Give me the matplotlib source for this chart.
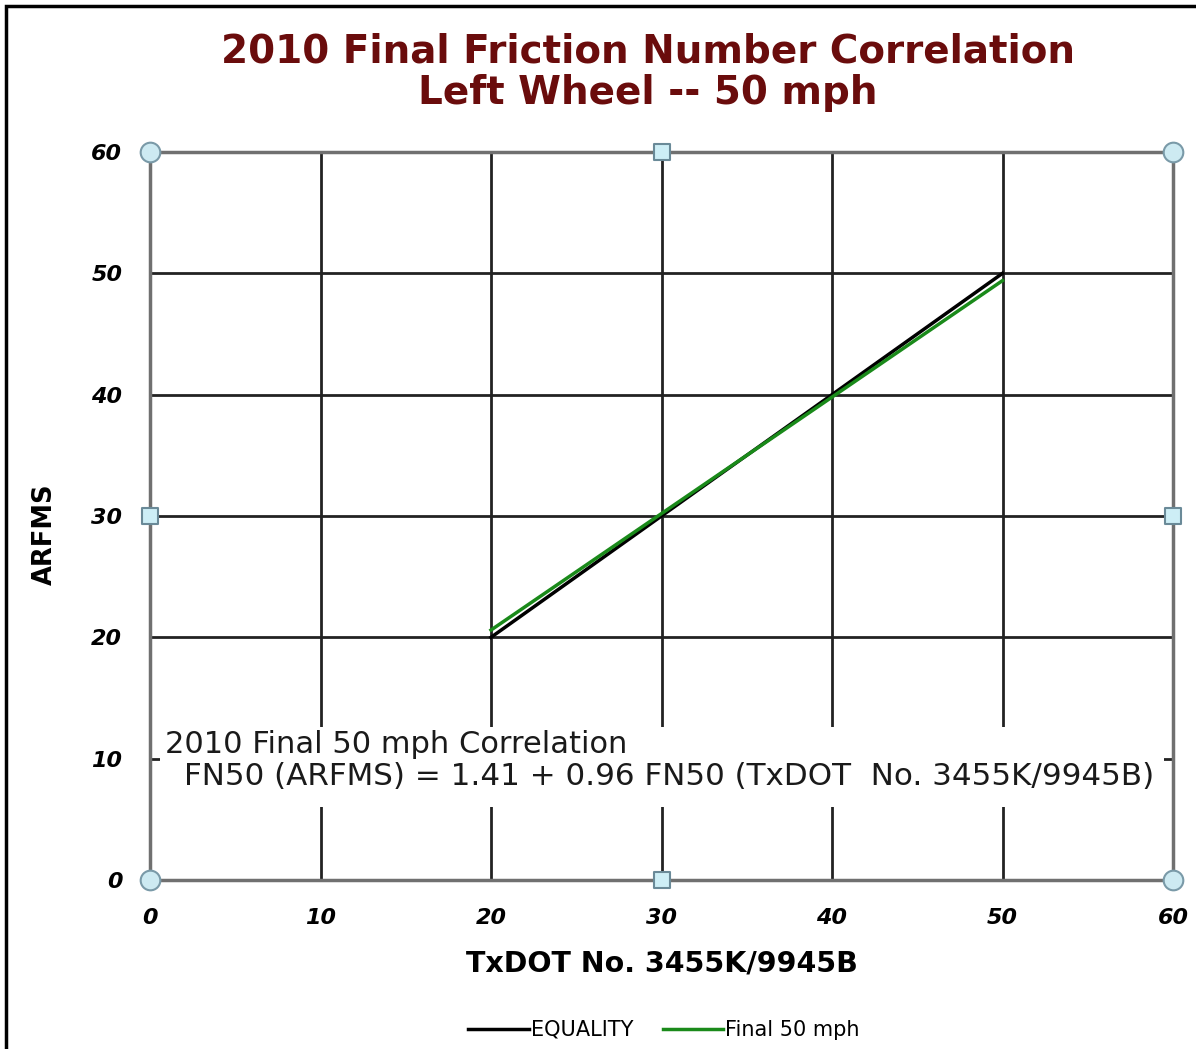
import matplotlib
matplotlib.use("Agg")
import matplotlib.pyplot as plt
from matplotlib.patches import Rectangle
from matplotlib.lines import Line2D

# Data
equality_x = [20, 50]
equality_y = [20, 50]
final_x = [20, 50]
final_y = [20.6, 49.4]
ticks = [0, 10, 20, 30, 40, 50, 60]
title = "2010 Final Friction Number Correlation\nLeft Wheel -- 50 mph"
xlabel = "TxDOT No. 3455K/9945B"
ylabel = "ARFMS"
note1 = "2010 Final 50 mph Correlation"
note2 = "FN50 (ARFMS) = 1.41 + 0.96 FN50 (TxDOT  No. 3455K/9945B)"

plt.rcParams['font.family'] = ['DejaVu Sans']

fig = plt.figure(figsize=(11.96, 10.49), dpi=100)
ax = fig.add_axes([150/1196, 1-880/1049, (1173-150)/1196, (880-152)/1049])

# outer frame
fig.patches.append(Rectangle((6/1196, -0.01), 1 - 6/1196 + 0.01, 1 - 6/1049 + 0.01,
                             transform=fig.transFigure, fill=False, edgecolor='black', linewidth=2.5))

ax.set_xlim(0, 60)
ax.set_ylim(0, 60)
ax.set_xticks(ticks)
ax.set_yticks(ticks)
ax.tick_params(axis='y', length=0, pad=20)
ax.tick_params(axis='x', length=0, pad=20)
for lbl in ax.get_xticklabels() + ax.get_yticklabels():
    lbl.set_fontweight('bold')
    lbl.set_fontstyle('italic')
    lbl.set_fontsize(16)
for s in ax.spines.values():
    s.set_color('#707070')
    s.set_linewidth(2.5)
ax.grid(True, color='#222222', linewidth=2)
ax.set_axisbelow(True)

ax.plot(equality_x, equality_y, color='black', linewidth=2.5, label='EQUALITY', zorder=3)
ax.plot(final_x, final_y, color='#1a8a1a', linewidth=2.5, label='Final 50 mph', zorder=3)

# white box behind annotation
ax.add_patch(Rectangle((0.6, 6.0), 58.9, 6.6, facecolor='white', edgecolor='none', zorder=2))
ax.text(0.9, 11.2, note1, fontsize=22, va='center', ha='left', zorder=4, color='#1a1a1a')
ax.text(2.0, 8.55, note2, fontsize=22.3, va='center', ha='left', zorder=4, color='#1a1a1a')

# handles
hx_c = [0, 0, 60, 60]
hy_c = [0, 60, 0, 60]
hx_s = [30, 30, 0, 60]
hy_s = [0, 60, 30, 30]
ax.scatter(hx_c, hy_c, marker='o', s=200, facecolor='#cdeaf2', edgecolor='#7a9aa8',
           linewidth=1.5, zorder=5, clip_on=False)
ax.scatter(hx_s, hy_s, marker='s', s=130, facecolor='#cdeef6', edgecolor='#6a8a98',
           linewidth=1.5, zorder=5, clip_on=False)

ax.set_xlabel(xlabel, fontsize=20.5, fontweight='bold', labelpad=16)
ax.set_ylabel(ylabel, fontsize=18.5, fontweight='bold', va='center')
ax.yaxis.set_label_coords((45 - 150) / 1023, 1 - (534 - 152) / 728)

fig.text(648/1196, 1-72/1049, title, ha='center', va='center', fontsize=28,
         fontweight='bold', color='#6a0c0c', linespacing=1.1)

fig.legend(handles=[Line2D([], [], color='black', lw=2.5), Line2D([], [], color='#1a8a1a', lw=2.5)],
           labels=['EQUALITY', 'Final 50 mph'], loc='center', bbox_to_anchor=(664/1196, 1-1030/1049),
           ncol=2, frameon=False, fontsize=15, handlelength=2.9, handletextpad=0.1, columnspacing=1.4)

fig.savefig('out.png', dpi=100)
